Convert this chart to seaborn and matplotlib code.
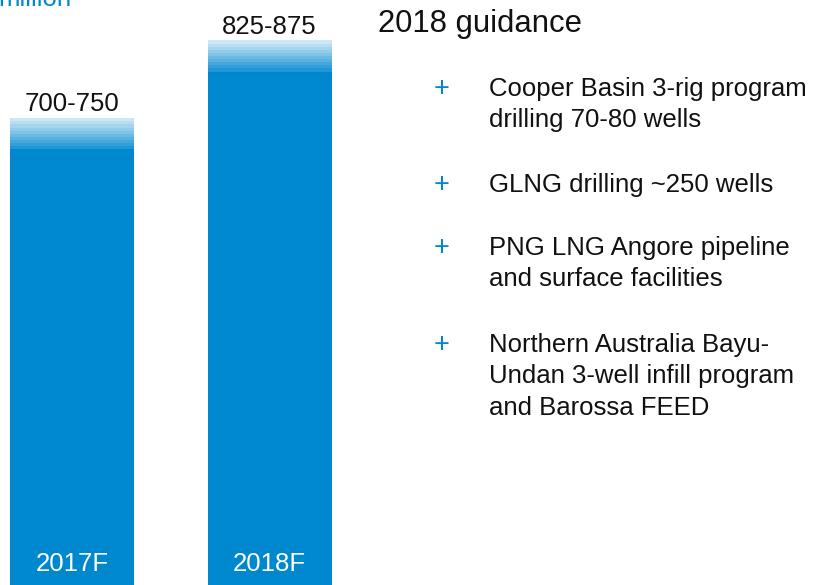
import seaborn as sns
import matplotlib.pyplot as plt
import numpy as np

sns.set_style("white")
plt.rcParams['font.family'] = ['Liberation Sans', 'DejaVu Sans']

# capex ranges per year (million)
years = ["2017F", "2018F"]
low = [700, 825]
high = [750, 875]
range_labels = ["700-750", "825-875"]

title = "2018 guidance"
bullets = [
    ["Cooper Basin 3-rig program", "drilling 70-80 wells"],
    ["GLNG drilling ~250 wells"],
    ["PNG LNG Angore pipeline", "and surface facilities"],
    ["Northern Australia Bayu-", "Undan 3-well infill program", "and Barossa FEED"],
]

BLUE = "#0088cf"
W, H = 817, 585

fig = plt.figure(figsize=(W / 100, H / 100), dpi=100)
ax = fig.add_axes([0, 0, 340 / W, 1])

bar_w = 0.628
sns.barplot(x=years, y=low, color=BLUE, width=bar_w, saturation=1,
            linewidth=0, ax=ax)

# stepped fade between the low and high end of each range
n = 10
base = np.array([0, 136, 207]) / 255
for i, (lo, hi) in enumerate(zip(low, high)):
    edges = np.linspace(lo, hi, n + 1)
    t = np.linspace(0.12, 0.8, n)
    cols = [tuple(base + (1 - base) * k) for k in t]
    ax.bar([i] * n, np.diff(edges), bottom=edges[:-1], width=bar_w,
           color=cols, linewidth=0)
    ax.annotate(range_labels[i], (i, hi), xytext=(0, 5), textcoords="offset points",
                ha="center", va="baseline", fontsize=18.5, color="#111111")
    ax.annotate(years[i], (i, 0), xytext=(0, 10), textcoords="offset points",
                ha="center", va="baseline", fontsize=18.5, color="white")

ax.set_xlim(-0.365, 1.357)
ax.set_ylim(0, 940)
ax.axis("off")


def px(x, y):
    return x / W, 1 - y / H


fig.text(*px(-2, 6), "million", color=BLUE, fontsize=18.5, va="baseline")
fig.text(*px(378, 32), title, fontsize=22.3, color="#111111", va="baseline")

starts = [96, 192, 255, 352]
for lines, y0 in zip(bullets, starts):
    fig.text(*px(442, y0), "+", color=BLUE, fontsize=19.5, ha="center", va="baseline")
    for j, line in enumerate(lines):
        fig.text(*px(489, y0 + 31.5 * j), line, fontsize=18.5, color="#111111",
                 va="baseline")

fig.savefig("out.png", dpi=100)
plt.close(fig)
